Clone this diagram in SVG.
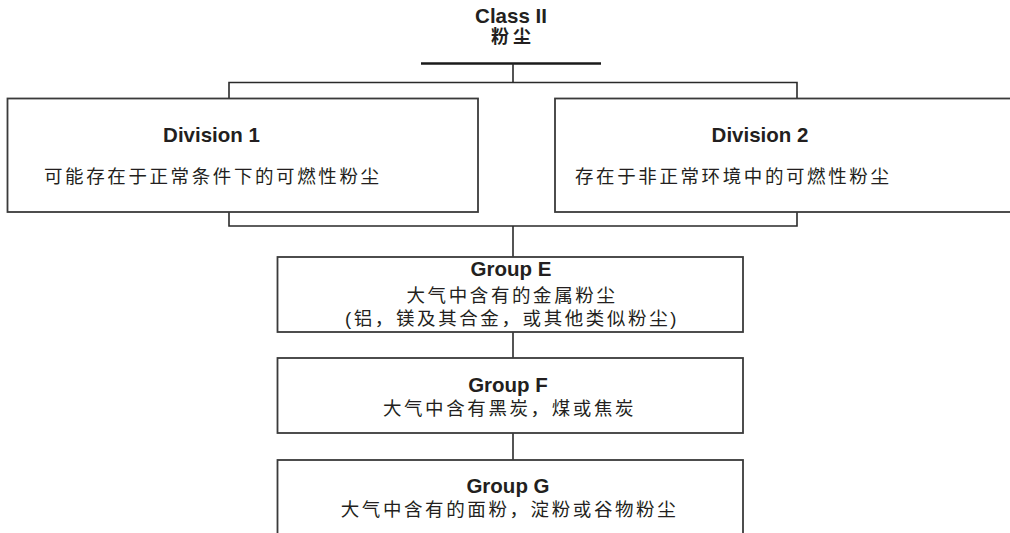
<svg xmlns="http://www.w3.org/2000/svg" width="1010" height="533" viewBox="0 0 1010 533">
<style>
.box{fill:#fff;stroke:#3a3a3a;stroke-width:1.8}
.ln{fill:none;stroke:#2a2a2a;stroke-width:1.6}
.b{font-family:"Liberation Sans",Arial,sans-serif;font-weight:bold;font-size:20.5px;fill:#231f20}
.c{font-family:"Liberation Sans","Noto Sans CJK SC",sans-serif;font-size:18.5px;letter-spacing:2.6px;fill:#231f20}
.cb{font-family:"Liberation Sans","Noto Sans CJK SC",sans-serif;font-weight:bold;font-size:18px;letter-spacing:4px;fill:#231f20}
</style>
<rect width="1010" height="533" fill="#fff"/>
<g id="connectors">
<line x1="421" y1="63.5" x2="601" y2="63.5" stroke="#1a1a1a" stroke-width="2.4"/>
<path class="ln" d="M513,63.5 V82.5"/>
<path class="ln" d="M229,98 V82.5 H797 V98"/>
<path class="ln" d="M229,212 V226 H797 V212"/>
<path class="ln" d="M513,226 V257"/>
<path class="ln" d="M513,332 V358"/>
<path class="ln" d="M513,433 V460"/>
</g>
<g id="class2">
<text class="b" x="511" y="22.5" text-anchor="middle">Class II</text>
<text class="cb" x="513" y="42.5" text-anchor="middle">粉尘</text>
</g>
<g id="division1">
<rect class="box" x="7.5" y="98.5" width="470.5" height="113.5"/>
<text class="b" x="211.5" y="142" text-anchor="middle">Division 1</text>
<text class="c" x="44" y="183">可能存在于正常条件下的可燃性粉尘</text>
</g>
<g id="division2">
<rect class="box" x="555" y="98.5" width="470" height="113.5"/>
<text class="b" x="760" y="142" text-anchor="middle">Division 2</text>
<text class="c" x="575" y="183">存在于非正常环境中的可燃性粉尘</text>
</g>
<g id="groupE">
<rect class="box" x="277.5" y="257" width="465.5" height="75"/>
<text class="b" x="511" y="276" text-anchor="middle">Group E</text>
<text class="c" x="512" y="302" text-anchor="middle">大气中含有的金属粉尘</text>
<text class="c" x="512" y="325" text-anchor="middle">(铝，镁及其合金，或其他类似粉尘)</text>
</g>
<g id="groupF">
<rect class="box" x="277.5" y="358" width="465.5" height="75"/>
<text class="b" x="508" y="392" text-anchor="middle">Group F</text>
<text class="c" x="509.5" y="415" text-anchor="middle">大气中含有黑炭，煤或焦炭</text>
</g>
<g id="groupG">
<rect class="box" x="277.5" y="460" width="465.5" height="85"/>
<text class="b" x="508" y="493" text-anchor="middle">Group G</text>
<text class="c" x="509.5" y="516" text-anchor="middle">大气中含有的面粉，淀粉或谷物粉尘</text>
</g>
</svg>
